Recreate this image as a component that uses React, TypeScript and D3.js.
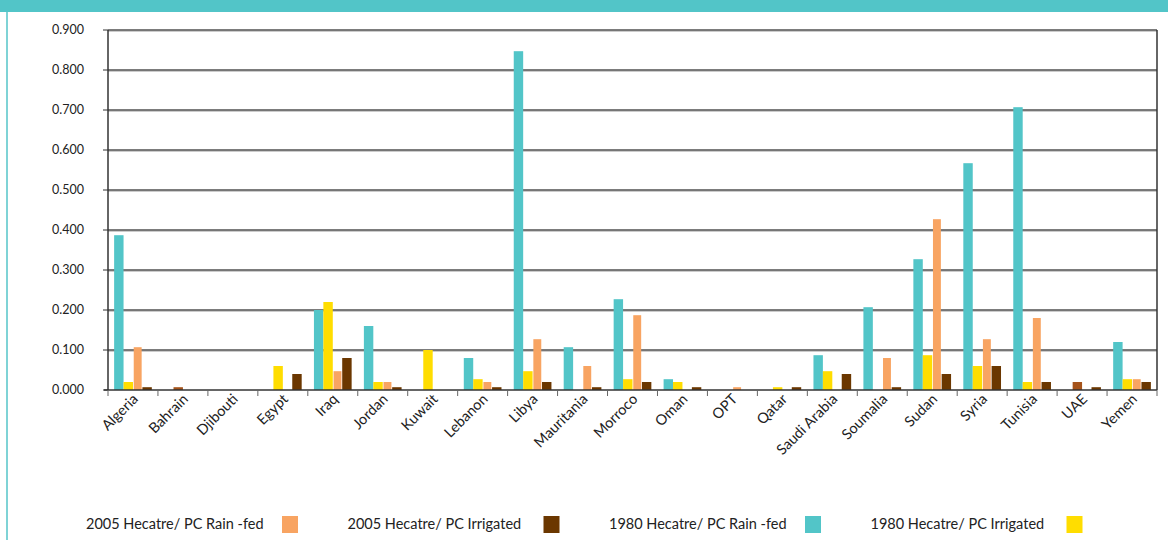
import * as d3 from 'd3';

const countries = ['Algeria', 'Bahrain', 'Djibouti', 'Egypt', 'Iraq', 'Jordan', 'Kuwait', 'Lebanon', 'Libya', 'Mauritania', 'Morroco', 'Oman', 'OPT', 'Qatar', 'Saudi Arabia', 'Soumalia', 'Sudan', 'Syria', 'Tunisia', 'UAE', 'Yemen'];

// hectare per capita
const rain1980 = [0.387, 0, 0, 0, 0.2, 0.16, 0, 0.08, 0.847, 0.107, 0.227, 0.027, 0, 0, 0.087, 0.207, 0.327, 0.567, 0.707, 0, 0.12];
const irr1980 = [0.02, 0.007, 0, 0.06, 0.22, 0.02, 0.1, 0.027, 0.047, 0, 0.027, 0.02, 0, 0.007, 0.047, 0, 0.087, 0.06, 0.02, 0.02, 0.027];
const rain2005 = [0.107, 0, 0, 0, 0.047, 0.02, 0, 0.02, 0.127, 0.06, 0.187, 0, 0.007, 0, 0, 0.08, 0.427, 0.127, 0.18, 0, 0.027];
const irr2005 = [0.007, 0, 0, 0.04, 0.08, 0.007, 0, 0.007, 0.02, 0.007, 0.02, 0.007, 0, 0.007, 0.04, 0.007, 0.04, 0.06, 0.02, 0.007, 0.02];

// points whose fill was changed by hand in the source chart
const siennaPoints = ['Bahrain', 'UAE'];

const yTicks = [0, 0.1, 0.2, 0.3, 0.4, 0.5, 0.6, 0.7, 0.8, 0.9];

const series = [
  { key: 'r80', label: '1980 Hecatre/ PC Rain -fed', values: rain1980, color: '#52c5c8' },
  { key: 'i80', label: '1980 Hecatre/ PC Irrigated', values: irr1980, color: '#ffdd00' },
  { key: 'r05', label: '2005 Hecatre/ PC Rain -fed', values: rain2005, color: '#f8a462' },
  { key: 'i05', label: '2005 Hecatre/ PC Irrigated', values: irr2005, color: '#6b3700' },
];
const legendOrder = ['r05', 'i05', 'r80', 'i80'];

const W = 1168;
const H = 540;
const m = { left: 108, right: 1157, top: 30, bottom: 390 };
const font = 'Lato, "Open Sans", sans-serif';

export default function App() {
  const x0 = d3.scaleBand().domain(countries).range([m.left, m.right]);
  const x1 = d3.scaleBand().domain(series.map((s) => s.key)).range([0, x0.bandwidth()]).paddingOuter(0.65);
  const y = d3.scaleLinear().domain([0, 0.9]).range([m.bottom, m.top]);

  return (
    <svg width={W} height={H} style={{ position: 'absolute', left: 0, top: 0, background: '#fff' }} fontFamily={font}>
      <rect x={0} y={0} width={W} height={12} fill="#52c5c8" />
      <rect x={6} y={12} width={2} height={H - 12} fill="#7fd3d6" />

      {/* grid */}
      {yTicks.filter((t) => t > 0).map((t) => (
        <g key={t}>
          <line x1={m.left} x2={m.right} y1={y(t) + 1.2} y2={y(t) + 1.2} stroke="#b5b5b5" strokeWidth={1} />
          <line x1={m.left} x2={m.right} y1={y(t)} y2={y(t)} stroke="#505050" strokeWidth={1.4} />
        </g>
      ))}

      {/* bars */}
      {series.map((s) => (
        <g key={s.key}>
          {countries.map((c, i) => {
            const v = s.values[i];
            if (!v) return null;
            const narrow = s.key === 'r05';
            const bw = x1.bandwidth();
            const fill = s.key === 'i80' && siennaPoints.includes(c) ? '#a5531a' : s.color;
            return (
              <rect
                key={c}
                x={x0(c)! + x1(s.key)! + (narrow ? bw * 0.08 : 0)}
                y={y(v)}
                width={narrow ? bw * 0.84 : bw}
                height={y(0) - y(v)}
                fill={fill}
              />
            );
          })}
        </g>
      ))}

      {/* axes */}
      <line x1={m.left} x2={m.left} y1={m.top} y2={m.bottom} stroke="#333" strokeWidth={1.5} />
      <line x1={m.right} x2={m.right} y1={m.top} y2={m.bottom} stroke="#333" strokeWidth={1.5} />
      <line x1={m.left - 4} x2={m.right} y1={m.bottom} y2={m.bottom} stroke="#333" strokeWidth={1.5} />
      {yTicks.map((t) => (
        <g key={t}>
          <line x1={m.left - 5} x2={m.left} y1={y(t)} y2={y(t)} stroke="#333" strokeWidth={1} />
          <text x={84} y={y(t)} dy="0.35em" textAnchor="end" fontSize={12.5} fill="#222">
            {t.toFixed(3)}
          </text>
        </g>
      ))}
      {countries.map((c) => (
        <line key={c} x1={x0(c)!} x2={x0(c)!} y1={m.bottom} y2={m.bottom + 6} stroke="#666" strokeWidth={1} />
      ))}
      <line x1={m.right} x2={m.right} y1={m.bottom} y2={m.bottom + 6} stroke="#666" strokeWidth={1} />
      {countries.map((c) => (
        <text
          key={c}
          transform={`translate(${x0(c)! + x0.bandwidth() / 2 + 6},${m.bottom + 10}) rotate(-45)`}
          textAnchor="end"
          fontSize={14.5}
          fill="#222"
        >
          {c}
        </text>
      ))}

      {/* legend */}
      {legendOrder.map((k, i) => {
        const s = series.find((d) => d.key === k)!;
        const lx = 86 + i * 261.5;
        return (
          <g key={k}>
            <text x={lx} y={529} fontSize={14.5} fill="#222">
              {s.label}
            </text>
            <rect x={lx + 196} y={516} width={16} height={17} fill={s.color} />
          </g>
        );
      })}
    </svg>
  );
}
